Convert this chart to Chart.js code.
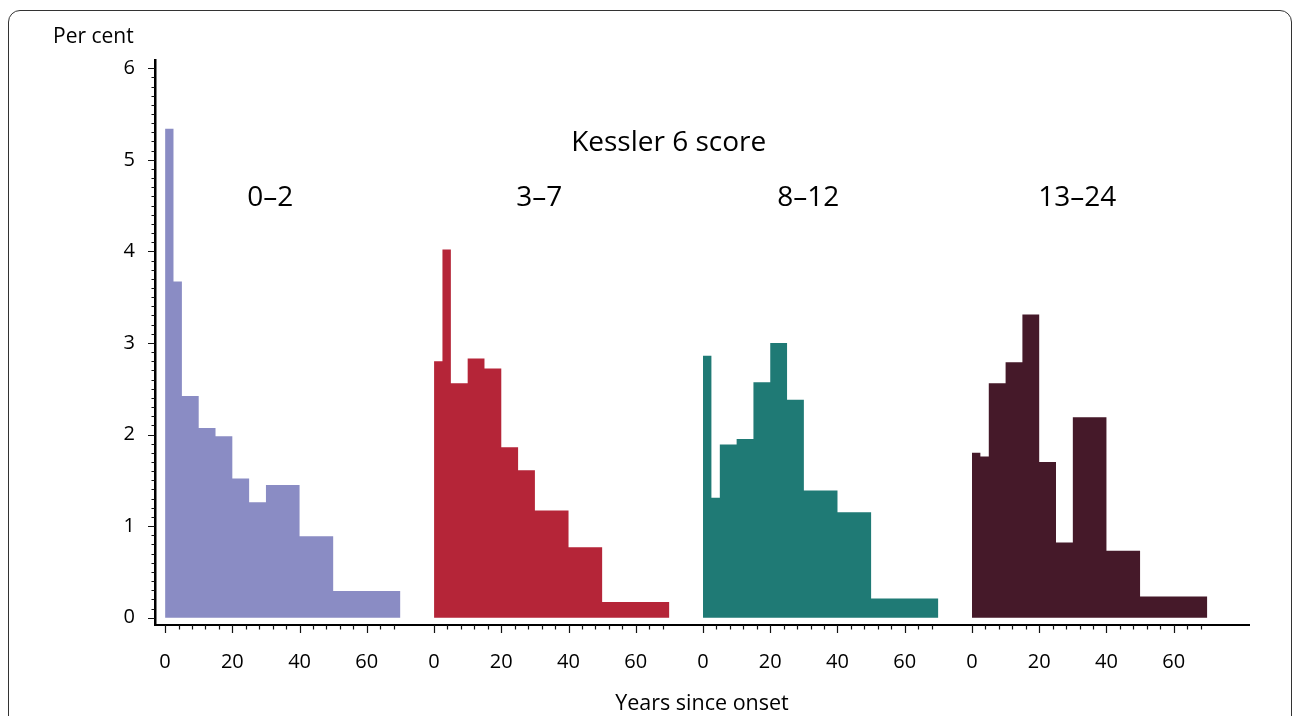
<!DOCTYPE html>
<html>
<head>
<meta charset="utf-8">
<script src="https://cdn.jsdelivr.net/npm/chart.js@4/dist/chart.umd.min.js"></script>
<style>
  html, body { margin: 0; padding: 0; background: #fff; overflow: hidden; }
  #frame {
    position: absolute; left: 8px; top: 10px; width: 1284px; height: 800px;
    box-sizing: border-box; border: 1.5px solid #333; border-radius: 12px;
  }
  #kessler-chart { position: absolute; left: 0; top: 0; }
</style>
</head>
<body>
<div id="frame"></div>
<canvas id="kessler-chart" width="1292" height="716"></canvas>
<script>
// bin edges (years since onset) shared by all four histograms
const BIN_EDGES = [0, 2.5, 5, 10, 15, 20, 25, 30, 40, 50, 70];

// Kessler 6 score groups
const GROUPS = ['0–2', '3–7', '8–12', '13–24'];

// per cent in each bin
const PCT_0_2   = [5.34, 3.67, 2.42, 2.07, 1.98, 1.52, 1.26, 1.45, 0.89, 0.29];
const PCT_3_7   = [2.80, 4.02, 2.56, 2.83, 2.72, 1.86, 1.61, 1.17, 0.77, 0.17];
const PCT_8_12  = [2.86, 1.31, 1.89, 1.95, 2.57, 3.00, 2.38, 1.39, 1.15, 0.21];
const PCT_13_24 = [1.80, 1.76, 2.56, 2.79, 3.31, 1.70, 0.82, 2.19, 0.73, 0.23];

const X_TICKS = [0, 20, 40, 60];
const Y_TICKS = [0, 1, 2, 3, 4, 5, 6];

const GROUP_COLORS = ['#8a8cc4', '#b52538', '#1f7a75', '#451929'];

// layout: each panel is shifted along one shared x axis
const PANEL_SHIFT = 80;
const X_MINOR_STEP = 4;
const X_MINOR_END = 68;


function histogramPoints(values, shift) {
    const pts = values.map((v, i) => ({ x: BIN_EDGES[i] + shift, y: v }));
    pts.push({ x: BIN_EDGES[BIN_EDGES.length - 1] + shift, y: values[values.length - 1] });
    return pts;
}


const decorPlugin = {
    id: 'decor',
    afterDraw(chart) {
        const ctx = chart.ctx;
        const xs = chart.scales.x;
        const ys = chart.scales.y;
        const area = chart.chartArea;

        ctx.save();
        ctx.strokeStyle = '#111';
        ctx.lineWidth = 1.2;
        ctx.beginPath();

        // x tick marks, major every 20, minor every 4
        GROUPS.forEach((g, p) => {
            for (let t = 0; t <= X_MINOR_END; t += X_MINOR_STEP) {
                const px = Math.round(xs.getPixelForValue(p * PANEL_SHIFT + t)) + 0.5;
                const len = X_TICKS.includes(t) ? 8 : 4.5;
                ctx.moveTo(px, area.bottom);
                ctx.lineTo(px, area.bottom + len);
            }
        });

        // y tick marks, major every 1, minor every 0.1
        for (let i = 0; i <= 60; i++) {
            const py = Math.round(ys.getPixelForValue(i / 10)) + 0.5;
            const len = i % 10 === 0 ? 7 : 3.5;
            ctx.moveTo(area.left, py);
            ctx.lineTo(area.left - len, py);
        }
        ctx.stroke();

        ctx.fillStyle = '#000';

        // axis titles
        ctx.font = '21px "Open Sans", sans-serif';
        ctx.textAlign = 'left';
        ctx.textBaseline = 'alphabetic';
        ctx.fillText('Per cent', area.left - 102, area.top - 17);

        ctx.font = '21.5px "Open Sans", sans-serif';
        ctx.textAlign = 'center';
        ctx.fillText('Years since onset', (area.left + area.right) / 2, area.bottom + 85);

        // group labels
        ctx.font = '28px "Open Sans", sans-serif';
        ctx.textBaseline = 'middle';
        ctx.fillText('Kessler 6 score', xs.getPixelForValue(149.8), ys.getPixelForValue(5.18));
        GROUPS.forEach((g, p) => {
            ctx.fillText(g, xs.getPixelForValue(p * PANEL_SHIFT + 31.3), ys.getPixelForValue(4.58));
        });
        ctx.restore();
    }
};


function initializeChart() {
    const canvas = document.getElementById('kessler-chart');
    if (!canvas) {
        console.error('Canvas element not found');
        return;
    }

    Chart.defaults.font.family = '"Open Sans", sans-serif';
    Chart.defaults.color = '#000';

    const series = [PCT_0_2, PCT_3_7, PCT_8_12, PCT_13_24];

    const chartConfig = {
        type: 'line',
        data: {
            datasets: series.map((values, p) => ({
                label: GROUPS[p],
                data: histogramPoints(values, p * PANEL_SHIFT),
                stepped: 'before',
                fill: 'origin',
                backgroundColor: GROUP_COLORS[p],
                borderColor: 'rgba(0,0,0,0)',
                borderWidth: 0,
                pointRadius: 0,
                pointHoverRadius: 0
            }))
        },
        options: {
            responsive: false,
            animation: false,
            layout: {
                padding: { left: 0, top: 60, right: 43, bottom: 0 }
            },
            scales: {
                x: {
                    type: 'linear',
                    min: -3,
                    max: 322.4,
                    afterBuildTicks: scale => {
                        scale.ticks = GROUPS.flatMap((g, p) => X_TICKS.map(t => ({ value: p * PANEL_SHIFT + t })));
                    },
                    afterFit: scale => { scale.height = 91; },
                    ticks: {
                        autoSkip: false,
                        maxRotation: 0,
                        padding: 25,
                        font: { size: 20 },
                        color: '#000',
                        callback: v => String(Math.round(v % PANEL_SHIFT))
                    },
                    grid: { display: false, drawTicks: false },
                    border: { display: true, color: '#000', width: 2 }
                },
                y: {
                    type: 'linear',
                    min: -0.08,
                    max: 6.09,
                    afterBuildTicks: scale => {
                        scale.ticks = Y_TICKS.map(v => ({ value: v }));
                    },
                    afterFit: scale => { scale.width = 155; },
                    ticks: {
                        padding: 20,
                        font: { size: 20 },
                        color: '#000'
                    },
                    grid: { display: false, drawTicks: false },
                    border: { display: true, color: '#000', width: 2.5 }
                }
            },
            plugins: {
                legend: { display: false },
                tooltip: { enabled: false }
            }
        },
        plugins: [decorPlugin]
    };

    new Chart(canvas, chartConfig);
}


if (document.readyState === 'loading') {
    document.addEventListener('DOMContentLoaded', initializeChart);
} else {
    initializeChart();
}
</script>
</body>
</html>
